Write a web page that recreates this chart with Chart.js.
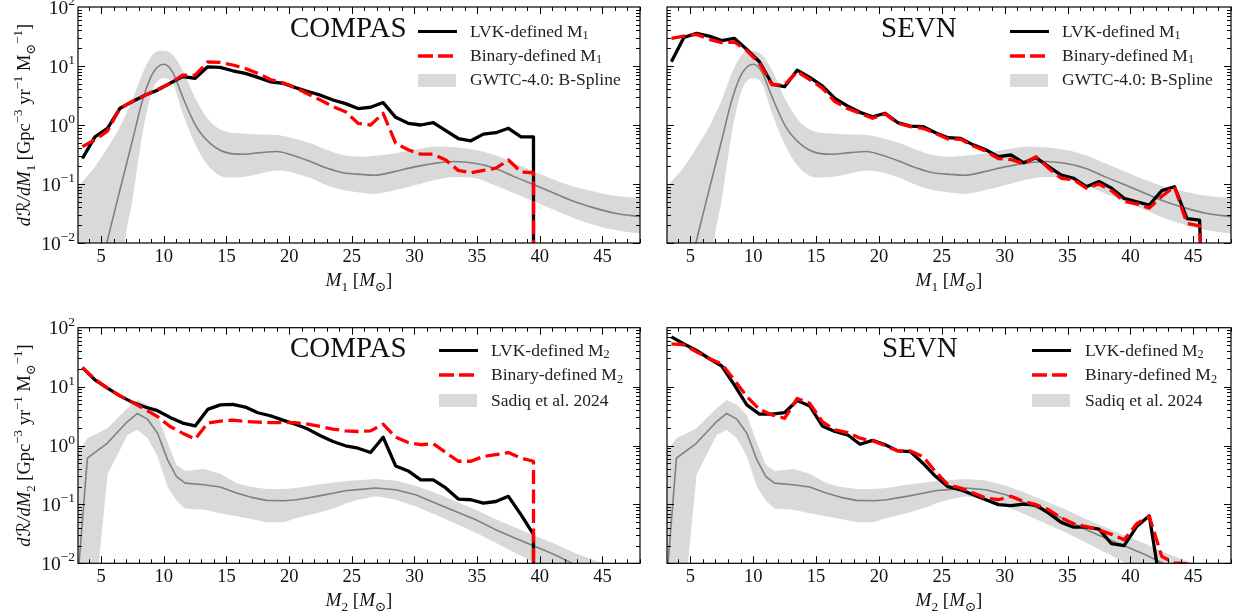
<!DOCTYPE html>
<html lang="en">
<head>
<meta charset="UTF-8">
<title>Mass distributions: COMPAS and SEVN</title>
<script src="https://cdn.jsdelivr.net/npm/chart.js"></script>
<style>
  body { margin: 0; background: #fff; }
  #page { position: relative; width: 1242px; height: 614px; overflow: hidden; font-family: "Liberation Serif", "DejaVu Serif", serif; }
  canvas { position: absolute; }
  .code { position: absolute; font-size: 29px; line-height: 1; color: #111; white-space: nowrap; }
  .legtext { position: absolute; font-size: 17.5px; line-height: 1; color: #222; white-space: nowrap; }
  .legtext sub { font-size: 70%; vertical-align: baseline; position: relative; top: 0.22em; }
  .swatch { position: absolute; }
</style>
</head>
<body>
<div id="page">
  <canvas id="c1" width="645" height="300" style="left:0;top:0"></canvas>
  <canvas id="c2" width="597" height="300" style="left:645px;top:0"></canvas>
  <canvas id="c3" width="645" height="314" style="left:0;top:300px"></canvas>
  <canvas id="c4" width="597" height="314" style="left:645px;top:300px"></canvas>
</div>
<script>
// axis ticks
const xTicks = [5, 10, 15, 20, 25, 30, 35, 40, 45];
const yTicks = [0.01, 0.1, 1, 10, 100];
const yTickExp = ['\u22122', '\u22121', '0', '1', '2'];

// GWTC-4.0 B-Spline (primary mass), 90% band and median
const gwtcX  = [3.15, 4.5, 5.4, 6.5, 6.9, 7.5, 8.3, 9.1, 10, 10.7, 11.5, 12.6, 13.7, 15, 16.3, 17.7, 19, 20, 21.7, 23, 24.3, 25.8, 26.8, 28.4, 30, 31.6, 33.2, 34.8, 36.4, 38, 39.6, 41.2, 42.8, 44.4, 46, 48];
const gwtcHi = [0.09, 0.197, 0.38, 0.93, 1.41, 2.63, 7.5, 15.5, 18.2, 15.5, 8.5, 2.63, 1.14, 0.77, 0.72, 0.69, 0.68, 0.62, 0.49, 0.38, 0.31, 0.29, 0.30, 0.33, 0.38, 0.43, 0.42, 0.38, 0.31, 0.224, 0.162, 0.117, 0.089, 0.074, 0.063, 0.058];
const gwtcLo = [0.001, 0.001, 0.001, 0.001, 0.01, 0.054, 0.72, 3.9, 6.2, 5.1, 1.58, 0.43, 0.186, 0.129, 0.132, 0.151, 0.17, 0.162, 0.126, 0.095, 0.079, 0.071, 0.068, 0.078, 0.095, 0.117, 0.132, 0.126, 0.095, 0.069, 0.050, 0.036, 0.026, 0.020, 0.0166, 0.0145];
const gwtcMedX = [4.9, 5.45, 6.0, 6.5, 7.5, 8.3, 9.1, 10, 10.7, 11.5, 12.6, 13.7, 15, 16.3, 17.7, 19, 20, 21.7, 23, 24.3, 25.8, 26.8, 28.4, 30, 31.6, 33.2, 34.8, 36.4, 38, 39.6, 41.2, 42.8, 44.4, 46, 48];
const gwtcMed  = [0.003, 0.01, 0.03, 0.08, 0.55, 2.63, 7.4, 10.7, 7.9, 3.0, 0.93, 0.49, 0.34, 0.32, 0.34, 0.355, 0.32, 0.24, 0.186, 0.155, 0.145, 0.141, 0.162, 0.195, 0.224, 0.24, 0.224, 0.185, 0.132, 0.096, 0.069, 0.050, 0.039, 0.032, 0.028];

// Sadiq et al. 2024 (secondary mass), band and median
const sadiqX   = [3.15, 3.9, 5.5, 7.1, 7.9, 8.7, 9.5, 10.3, 11.0, 11.7, 13.2, 14.5, 15.8, 16.9, 18.2, 19.6, 20.6, 22.2, 23.6, 24.6, 25.5, 26.9, 28.5, 30.1, 31.7, 33.3, 34.9, 36.4, 38.0, 39.6, 41.2, 42.8, 44.4, 46.0];
const sadiqHi  = [0.79, 1.33, 1.97, 4.3, 5.9, 4.9, 3.3, 1.12, 0.47, 0.37, 0.40, 0.33, 0.23, 0.20, 0.182, 0.182, 0.19, 0.215, 0.236, 0.25, 0.257, 0.27, 0.255, 0.207, 0.156, 0.112, 0.081, 0.057, 0.041, 0.0295, 0.0215, 0.015, 0.0112, 0.0085];
const sadiqLo  = [0.0001, 0.0001, 0.32, 1.51, 1.85, 1.33, 0.66, 0.20, 0.117, 0.085, 0.081, 0.071, 0.063, 0.057, 0.050, 0.050, 0.059, 0.071, 0.087, 0.105, 0.12, 0.137, 0.12, 0.092, 0.067, 0.047, 0.033, 0.0227, 0.0153, 0.0102, 0.0063, 0.004, 0.0025, 0.0016];
const sadiqMed = [0.006, 0.61, 1.1, 2.55, 3.5, 2.8, 1.62, 0.57, 0.30, 0.23, 0.215, 0.197, 0.156, 0.133, 0.117, 0.115, 0.12, 0.137, 0.156, 0.172, 0.178, 0.19, 0.177, 0.146, 0.105, 0.076, 0.055, 0.038, 0.027, 0.0194, 0.014, 0.0095, 0.0065, 0.0045];

// COMPAS (bins 3.5 ... 39.5, then the cut-off)
const compasBins = [3.5, 4.5, 5.5, 6.5, 7.5, 8.5, 9.5, 10.5, 11.5, 12.5, 13.5, 14.5, 15.5, 16.5, 17.5, 18.5, 19.5, 20.5, 21.5, 22.5, 23.5, 24.5, 25.5, 26.5, 27.5, 28.5, 29.5, 30.5, 31.5, 32.5, 33.5, 34.5, 35.5, 36.5, 37.5, 38.5, 39.5, 39.5];
const compasM1Lvk = [0.27, 0.63, 0.88, 1.92, 2.5, 3.2, 3.9, 5.1, 6.6, 6.2, 9.7, 9.5, 8.3, 7.5, 6.4, 5.4, 5.1, 4.3, 3.7, 3.2, 2.65, 2.3, 1.9, 2.0, 2.4, 1.35, 1.07, 1.0, 1.1, 0.80, 0.59, 0.54, 0.70, 0.74, 0.88, 0.63, 0.63, 0.0001];
const compasM1Bin = [0.43, 0.56, 0.79, 1.92, 2.5, 3.2, 4.0, 5.1, 7.0, 7.0, 11.7, 11.5, 10.4, 9.1, 7.5, 5.9, 5.2, 4.3, 3.35, 2.65, 2.05, 1.68, 1.07, 1.0, 1.58, 0.49, 0.38, 0.32, 0.32, 0.255, 0.17, 0.155, 0.17, 0.185, 0.255, 0.16, 0.155, 0.0001];
const compasM2Lvk = [21, 13, 9.4, 6.95, 5.4, 4.5, 3.9, 3.0, 2.4, 2.15, 4.1, 4.9, 5.0, 4.5, 3.6, 3.2, 2.7, 2.3, 1.9, 1.46, 1.17, 0.99, 0.9, 0.76, 1.38, 0.45, 0.37, 0.26, 0.26, 0.19, 0.123, 0.12, 0.105, 0.112, 0.137, 0.067, 0.031, 0.0001];
const compasM2Bin = [21, 13.4, 9.4, 6.95, 5.4, 4.1, 3.1, 2.1, 1.62, 1.28, 2.4, 2.6, 2.7, 2.55, 2.5, 2.45, 2.45, 2.45, 2.3, 2.1, 1.9, 1.77, 1.73, 1.77, 2.3, 1.38, 1.12, 1.03, 1.07, 0.76, 0.54, 0.54, 0.65, 0.70, 0.76, 0.61, 0.54, 0.0001];

// SEVN
const sevnM1Bins = [3.5, 4.5, 5.5, 6.5, 7.5, 8.5, 9.5, 10.5, 11.5, 12.5, 13.5, 14.5, 15.5, 16.5, 17.5, 18.5, 19.5, 20.5, 21.5, 22.5, 23.5, 24.5, 25.5, 26.5, 27.5, 28.5, 29.5, 30.5, 31.5, 32.5, 33.5, 34.5, 35.5, 36.5, 37.5, 38.5, 39.5, 40.5, 41.5, 42.5, 43.5, 44.5, 45.5, 45.9];
const sevnM1Lvk = [11.8, 30.6, 35.8, 32.2, 26.9, 29.5, 19.1, 11.8, 4.95, 4.47, 8.5, 6.4, 4.6, 2.83, 2.1, 1.64, 1.38, 1.58, 1.1, 0.96, 0.94, 0.74, 0.61, 0.59, 0.46, 0.38, 0.29, 0.31, 0.23, 0.28, 0.197, 0.142, 0.125, 0.090, 0.11, 0.085, 0.057, 0.050, 0.044, 0.077, 0.09, 0.026, 0.0245, 0.0001];
const sevnM1Bin = [29.5, 32.2, 34.4, 28.3, 24.9, 25.5, 18.2, 11.1, 4.8, 4.8, 8.0, 5.9, 4.2, 2.5, 1.9, 1.58, 1.3, 1.54, 1.07, 0.94, 0.88, 0.72, 0.58, 0.57, 0.44, 0.36, 0.27, 0.26, 0.22, 0.29, 0.185, 0.125, 0.118, 0.085, 0.10, 0.077, 0.051, 0.046, 0.039, 0.062, 0.09, 0.0215, 0.0195, 0.0001];
const sevnM2LvkBins = [3.5, 4.5, 5.5, 6.5, 7.5, 8.5, 9.5, 10.5, 11.5, 12.5, 13.5, 14.5, 15.5, 16.5, 17.5, 18.5, 19.5, 20.5, 21.5, 22.5, 23.5, 24.5, 25.5, 26.5, 27.5, 28.5, 29.5, 30.5, 31.5, 32.5, 33.5, 34.5, 35.5, 36.5, 37.5, 38.5, 39.5, 40.5, 41.5, 42.5];
const sevnM2Lvk = [70, 53, 41, 30, 22.4, 10.7, 4.9, 3.4, 3.4, 3.6, 5.8, 4.7, 2.15, 1.73, 1.52, 1.05, 1.22, 1.03, 0.81, 0.79, 0.50, 0.30, 0.20, 0.177, 0.146, 0.12, 0.099, 0.095, 0.101, 0.097, 0.071, 0.0495, 0.041, 0.041, 0.038, 0.0215, 0.020, 0.042, 0.064, 0.003];
const sevnM2BinBins = [3.5, 4.5, 5.5, 6.5, 7.5, 8.5, 9.5, 10.5, 11.5, 12.5, 13.5, 14.5, 15.5, 16.5, 17.5, 18.5, 19.5, 20.5, 21.5, 22.5, 23.5, 24.5, 25.5, 26.5, 27.5, 28.5, 29.5, 30.5, 31.5, 32.5, 33.5, 34.5, 35.5, 36.5, 37.5, 38.5, 39.5, 40.5, 41.5, 42.5, 43.5, 44.5, 45.5];
const sevnM2Bin = [53, 51, 39, 30, 24.2, 13, 6.8, 4.1, 3.3, 2.9, 6.3, 5.2, 2.55, 1.85, 1.66, 1.33, 1.2, 0.99, 0.81, 0.81, 0.65, 0.36, 0.215, 0.19, 0.156, 0.128, 0.12, 0.137, 0.112, 0.099, 0.081, 0.059, 0.047, 0.042, 0.037, 0.031, 0.025, 0.047, 0.063, 0.013, 0.0102, 0.0098, 0.008];

const legendM1 = ['LVK-defined M<sub>1</sub>', 'Binary-defined M<sub>1</sub>', 'GWTC-4.0: B-Spline'];
const legendM2 = ['LVK-defined M<sub>2</sub>', 'Binary-defined M<sub>2</sub>', 'Sadiq et al. 2024'];

const serif = '"Liberation Serif", "DejaVu Serif", "DejaVu Sans", serif';
const bandColor = '#d9d9d9';
const dash = [14, 5.5];

function pts(xs, ys) { return xs.map((x, i) => ({ x: x, y: ys[i] })); }

function runFont(r, size) {
  const s = (r.sub || r.sup) ? size * 0.7 : size;
  return (r.it ? 'italic ' : '') + s + 'px ' + serif;
}

// draw a string made of styled pieces, centred on (cx, cy)
function drawRuns(ctx, runs, cx, cy, size) {
  ctx.textAlign = 'left';
  ctx.textBaseline = 'alphabetic';
  let w = 0;
  runs.forEach(r => { ctx.font = runFont(r, size); r.w = ctx.measureText(r.t).width + (r.gap || 0); w += r.w; });
  let x = cx - w / 2;
  const base = cy + size * 0.33;
  runs.forEach(r => {
    ctx.font = runFont(r, size);
    const dy = r.sub ? size * 0.25 : (r.sup ? -size * 0.42 : 0);
    ctx.fillText(r.t, x, base + dy);
    x += r.w;
  });
}

const massAxes = {
  id: 'massAxes',
  afterDraw(chart, args, o) {
    const { ctx, chartArea: a, scales: { x, y } } = chart;
    ctx.save();
    ctx.strokeStyle = '#000';
    ctx.lineWidth = 1;
    ctx.beginPath();
    for (let v = 4; v <= 48; v++) {
      const px = Math.round(x.getPixelForValue(v)) + 0.5;
      const len = v % 5 === 0 ? 7 : 4;
      ctx.moveTo(px, a.bottom); ctx.lineTo(px, a.bottom - len);
      ctx.moveTo(px, a.top); ctx.lineTo(px, a.top + len);
    }
    for (let d = -2; d < 2; d++) {
      for (let k = 1; k < 10; k++) {
        const py = Math.round(y.getPixelForValue(k * Math.pow(10, d))) + 0.5;
        const len = k === 1 ? 7 : 4;
        ctx.moveTo(a.left, py); ctx.lineTo(a.left + len, py);
        ctx.moveTo(a.right, py); ctx.lineTo(a.right - len, py);
      }
    }
    ctx.stroke();
    ctx.lineWidth = 1.2;
    ctx.strokeRect(a.left, a.top, a.right - a.left, a.bottom - a.top);

    ctx.fillStyle = '#111';
    if (o.yLabels) {
      ctx.textAlign = 'left';
      ctx.textBaseline = 'alphabetic';
      yTicks.forEach((v, i) => {
        const py = y.getPixelForValue(v);
        ctx.font = '19.5px ' + serif;
        const wb = ctx.measureText('10').width;
        ctx.font = '13.5px ' + serif;
        const we = ctx.measureText(yTickExp[i]).width;
        const right = a.left - 3;
        ctx.font = '19.5px ' + serif;
        ctx.fillText('10', right - we - wb, py + 6.5);
        ctx.font = '13.5px ' + serif;
        ctx.fillText(yTickExp[i], right - we, py - 2);
      });
      ctx.save();
      ctx.translate(o.yTitleX, (a.top + a.bottom) / 2);
      ctx.rotate(-Math.PI / 2);
      drawRuns(ctx, [
        { t: 'd', it: true, gap: 1 }, { t: '\u211B' }, { t: '/d', it: true }, { t: 'M', it: true }, { t: o.sub, sub: true },
        { t: ' [Gpc' }, { t: '\u22123', sup: true }, { t: ' yr' }, { t: '\u22121', sup: true },
        { t: ' M' }, { t: '\u2299', sub: true }, { t: '\u22121', sup: true }, { t: ']' }
      ], 0, 0, 18.5);
      ctx.restore();
    }
    drawRuns(ctx, [
      { t: 'M', it: true }, { t: o.sub, sub: true }, { t: ' [' }, { t: 'M', it: true }, { t: '\u2299', sub: true }, { t: ']' }
    ], (a.left + a.right) / 2, o.xTitleY, 19);
    ctx.restore();
  }
};

function makePanel(p) {
  return new Chart(document.getElementById(p.id), {
    type: 'line',
    data: {
      datasets: [
        { data: pts(p.binX, p.bin), borderColor: '#ff0000', borderWidth: 3.3, borderDash: dash, order: 0 },
        { data: pts(p.lvkX, p.lvk), borderColor: '#000000', borderWidth: 3.3, order: 1 },
        { data: pts(p.medX, p.med), borderColor: '#808080', borderWidth: 1.6, order: 2,
          cubicInterpolationMode: p.smooth ? 'monotone' : 'default' },
        { data: pts(p.bandX, p.hi), borderWidth: 0, borderColor: 'rgba(0,0,0,0)', backgroundColor: bandColor, fill: '+1', order: 3,
          cubicInterpolationMode: p.smooth ? 'monotone' : 'default' },
        { data: pts(p.bandX, p.lo), borderWidth: 0, borderColor: 'rgba(0,0,0,0)', fill: false, order: 4,
          cubicInterpolationMode: p.smooth ? 'monotone' : 'default' }
      ]
    },
    options: {
      responsive: false,
      animation: false,
      devicePixelRatio: 1,
      clip: 0,
      elements: { point: { radius: 0 }, line: { tension: 0, borderJoinStyle: 'round' } },
      layout: { padding: { top: p.padTop, right: p.padRight, left: 0, bottom: 0 } },
      plugins: {
        legend: { display: false },
        tooltip: { enabled: false },
        massAxes: { yLabels: p.yLabels, sub: p.sub, xTitleY: p.xTitleY, yTitleX: 24 }
      },
      scales: {
        x: {
          type: 'linear', min: 3.15, max: 48,
          grid: { display: false, drawTicks: false }, border: { display: false },
          ticks: { font: { family: serif, size: 18.5 }, color: '#111', padding: 3, maxRotation: 0, autoSkip: false },
          afterBuildTicks: s => { s.ticks = xTicks.map(v => ({ value: v })); },
          afterFit: s => { s.height = p.xH; s.paddingLeft = 0; s.paddingRight = 0; }
        },
        y: {
          type: 'logarithmic', min: 0.01, max: 100,
          grid: { display: false, drawTicks: false }, border: { display: false },
          ticks: { display: false },
          afterBuildTicks: s => { s.ticks = yTicks.map(v => ({ value: v })); },
          afterFit: s => { s.width = p.yW; s.paddingTop = 0; s.paddingBottom = 0; }
        }
      }
    },
    plugins: [massAxes]
  });
}

makePanel({ id: 'c1', yW: 78, padTop: 7, padRight: 5, xH: 57, yLabels: true, sub: '1', xTitleY: 280,
  bandX: gwtcX, hi: gwtcHi, lo: gwtcLo, medX: gwtcMedX, med: gwtcMed, smooth: true,
  lvkX: compasBins, lvk: compasM1Lvk, binX: compasBins, bin: compasM1Bin });
makePanel({ id: 'c2', yW: 22, padTop: 7, padRight: 11, xH: 57, yLabels: false, sub: '1', xTitleY: 280,
  bandX: gwtcX, hi: gwtcHi, lo: gwtcLo, medX: gwtcMedX, med: gwtcMed, smooth: true,
  lvkX: sevnM1Bins, lvk: sevnM1Lvk, binX: sevnM1Bins, bin: sevnM1Bin });
makePanel({ id: 'c3', yW: 78, padTop: 27.7, padRight: 5, xH: 50.7, yLabels: true, sub: '2', xTitleY: 300,
  bandX: sadiqX, hi: sadiqHi, lo: sadiqLo, medX: sadiqX, med: sadiqMed, smooth: false,
  lvkX: compasBins, lvk: compasM2Lvk, binX: compasBins, bin: compasM2Bin });
makePanel({ id: 'c4', yW: 22, padTop: 27.7, padRight: 11, xH: 50.7, yLabels: false, sub: '2', xTitleY: 300,
  bandX: sadiqX, hi: sadiqHi, lo: sadiqLo, medX: sadiqX, med: sadiqMed, smooth: false,
  lvkX: sevnM2LvkBins, lvk: sevnM2Lvk, binX: sevnM2BinBins, bin: sevnM2Bin });

// in-axes labels and legends
function addLegend(p) {
  const page = document.getElementById('page');
  const code = document.createElement('div');
  code.className = 'code';
  code.textContent = p.code;
  code.style.left = p.codeX + 'px';
  code.style.top = p.codeY + 'px';
  page.appendChild(code);
  p.labels.forEach((lab, i) => {
    const ry = p.rowY[i];
    let sw;
    if (i === 0) {
      sw = document.createElement('div');
      sw.style.cssText = 'width:39px;height:3.3px;background:#000;top:' + (ry - 1.65) + 'px;';
    } else if (i === 1) {
      sw = document.createElementNS('http://www.w3.org/2000/svg', 'svg');
      sw.setAttribute('width', '39'); sw.setAttribute('height', '8');
      sw.innerHTML = '<line x1="0" y1="4" x2="39" y2="4" stroke="#ff0000" stroke-width="3.3" stroke-dasharray="15 5"/>';
      sw.style.top = (ry - 4) + 'px';
    } else {
      sw = document.createElement('div');
      sw.style.cssText = 'width:38px;height:13px;background:' + bandColor + ';top:' + (ry - 6.5) + 'px;';
    }
    sw.classList.add('swatch');
    sw.style.position = 'absolute';
    sw.style.left = p.sampleX + 'px';
    page.appendChild(sw);
    const t = document.createElement('div');
    t.className = 'legtext';
    t.innerHTML = lab;
    t.style.left = p.textX + 'px';
    t.style.top = (ry - 9) + 'px';
    page.appendChild(t);
  });
}

addLegend({ code: 'COMPAS', codeX: 290, codeY: 13, sampleX: 418, textX: 470, rowY: [31.7, 55.6, 80.3], labels: legendM1 });
addLegend({ code: 'SEVN', codeX: 881, codeY: 13, sampleX: 1010, textX: 1062, rowY: [31.7, 55.6, 80.3], labels: legendM1 });
addLegend({ code: 'COMPAS', codeX: 290, codeY: 333, sampleX: 439, textX: 491, rowY: [350.7, 375.2, 400.5], labels: legendM2 });
addLegend({ code: 'SEVN', codeX: 882, codeY: 333, sampleX: 1032, textX: 1085, rowY: [350.7, 375.2, 400.5], labels: legendM2 });
</script>
</body>
</html>
